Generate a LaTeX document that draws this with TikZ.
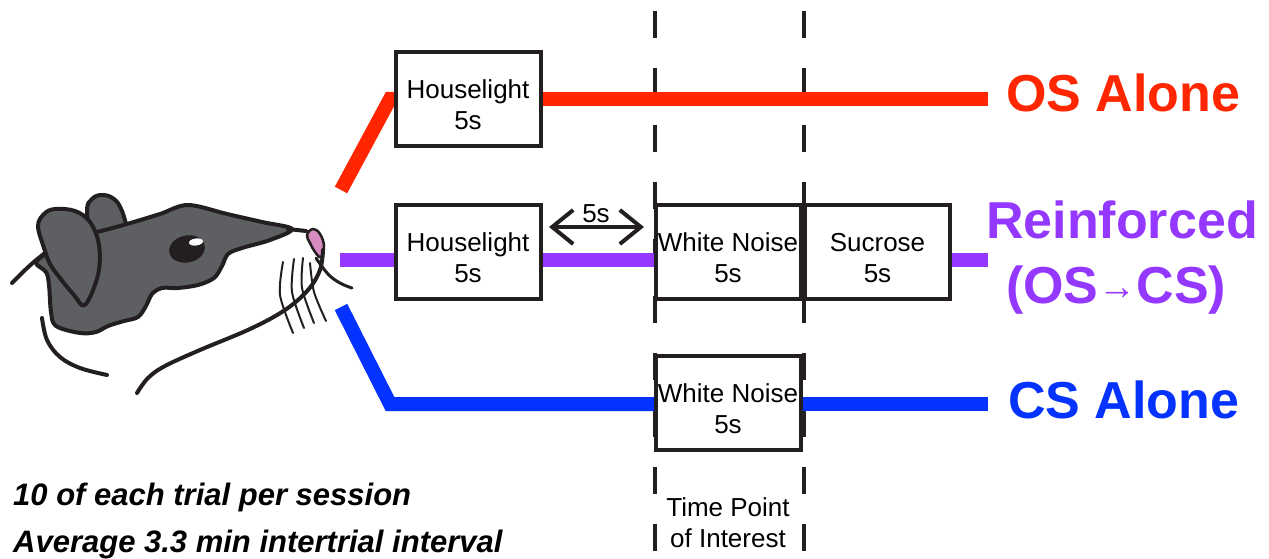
\documentclass[tikz,border=0pt]{standalone}
\usepackage{fontspec}
\setmainfont{Liberation Sans}
\usetikzlibrary{arrows.meta}

\definecolor{ink}{RGB}{35,31,32}
\definecolor{osred}{RGB}{255,38,0}
\definecolor{grape}{RGB}{148,55,255}
\definecolor{csblue}{RGB}{4,51,255}
\definecolor{ratgray}{RGB}{94,95,99}
\definecolor{nosepink}{RGB}{214,140,192}

\begin{document}
\begin{tikzpicture}[x=1pt,y=-1pt,
  stim/.style={draw=ink, line width=4pt, fill=white, minimum width=145pt,
    minimum height=94pt, inner sep=0pt, outer sep=0pt},
  stimtxt/.style={align=center, font=\fontsize{26}{31}\selectfont, inner sep=0pt, text=black},
  trial/.style={line width=14pt, line join=miter},
  timept/.style={line width=4pt, draw=ink, dash pattern=on 27pt off 30pt},
  tag/.style={font=\fontsize{52}{60}\selectfont\bfseries, inner sep=0pt, anchor=base west},
  note/.style={font=\fontsize{31}{36}\selectfont\bfseries\itshape, inner sep=0pt, anchor=base west},
  outline/.style={line width=4pt, draw=ink, line join=round, line cap=round},
  whisker/.style={line width=2pt, draw=ink, line cap=round}
]
\useasboundingbox (0,0) rectangle (1269,559);

% ---- time point of interest markers ----
\coordinate (tpl0) at (655,11);   \coordinate (tpl1) at (655,551);
\coordinate (tpr0) at (803.5,11); \coordinate (tpr1) at (803.5,551);
\draw[timept] (tpl0) -- (tpl1);
\draw[timept] (tpr0) -- (tpr1);

% ---- trial lines: end points and bends ----
\coordinate (r0) at (341,190); \coordinate (r1) at (390,99); \coordinate (r2) at (988,99);
\coordinate (p0) at (340,259.5); \coordinate (p1) at (988,259.5);
\coordinate (b0) at (341,307); \coordinate (b1) at (390,404); \coordinate (b2) at (988,404);

% ---- stimulus boxes (positions first, drawn over the lines below) ----
\path
  (468,99)    coordinate (hl1c)
  (468,252)   coordinate (hl2c)
  (728,252)   coordinate (wn2c)
  (877.5,252) coordinate (succ)
  (728,402.5) coordinate (wn3c);
\node[stim, draw=none, fill=none] (hl1) at (hl1c) {};
\node[stim, draw=none, fill=none] (hl2) at (hl2c) {};
\node[stim, draw=none, fill=none] (wn2) at (wn2c) {};
\node[stim, draw=none, fill=none] (suc) at (succ) {};
\node[stim, draw=none, fill=none] (wn3) at (wn3c) {};

\draw[trial, osred] (r0) -- (r1) -- (hl1.west);
\draw[trial, osred] (hl1.east) -- (r2);
\draw[trial, grape] (p0) -- (hl2.west |- p0);
\draw[trial, grape] (hl2.east |- p0) -- (wn2.west |- p0);
\draw[trial, grape] (suc.east |- p0) -- (p1);
\draw[trial, csblue] (b0) -- (b1) -- (wn3.west |- b1);
\draw[trial, csblue] (wn3.east |- b2) -- (b2);

\node[stim, label={[stimtxt, yshift=-6pt]center:Houselight\\5s}] at (hl1c) {};
\node[stim, label={[stimtxt, yshift=-6pt]center:Houselight\\5s}] at (hl2c) {};
\node[stim, label={[stimtxt, yshift=-6pt]center:White Noise\\5s}] at (wn2c) {};
\node[stim, label={[stimtxt, yshift=-6pt]center:Sucrose\\5s}] at (succ) {};
\node[stim, label={[stimtxt, yshift=-6pt]center:White Noise\\5s}] at (wn3c) {};

% ---- labels at the right ----
\node[tag, text=osred] (osl) at (1006,112) {OS Alone};
\node[tag, text=grape] (rfl) at (986,238) {Reinforced};
\node[tag, text=grape, anchor=base] (rfl2) at (1116,303)
  {(OS\raisebox{4pt}{\fontsize{38}{38}\selectfont→}CS)};
\node[tag, text=csblue] (csl) at (1008,418) {CS Alone};

% ---- interval between houselight and white noise ----
\coordinate (a0) at (549,227); \coordinate (a1) at (644,227);
\draw[line width=4pt, draw=ink,
  {Straight Barb[length=21pt,width=34pt]}-{Straight Barb[length=21pt,width=34pt]}]
  (a0) -- (a1);
\node[stimtxt, anchor=base] (gap) at (596,222) {5s};

% ---- time point caption ----
\node[stimtxt] (tpcap) at (728,523) {Time Point\\of Interest};

% ---- session notes ----
\node[note] (n1) at (13,505) {10 of each trial per session};
\node[note] (n2) at (13,552) {Average 3.3 min intertrial interval};

% ---- rat head ----
% back ear
\filldraw[outline, fill=ratgray] plot[smooth, tension=0.7] coordinates
  {(90,238) (87,210) (92,199) (102,195) (114,199) (122,211) (128,232)};
% head
\filldraw[outline, fill=ratgray] plot[smooth cycle, tension=0.55] coordinates
  {(36,263) (46,253) (60,240) (97,232) (127,224) (160,214) (188,205) (227,214)
   (262,222) (292,229) (270,240) (242,248) (228,254) (222,266) (214,278)
   (198,285) (178,288) (162,288) (152,294) (146,306) (138,317) (124,321)
   (108,326) (96,332) (80,333) (56,326) (51,312) (49,285) (46,272)};
% front ear
\filldraw[outline, fill=ratgray] plot[smooth cycle, tension=0.6] coordinates
  {(38,226) (44,214) (55,209) (75,211) (90,222) (99,245) (98,275) (85,305)
   (74,295) (60,278) (50,264) (44,248)};
% eye
\fill[ink] (187,249) ellipse [x radius=18, y radius=13.5, rotate=12];
\fill[white] (196,242) ellipse [x radius=7, y radius=3.5, rotate=8];
% snout and nose
\draw[outline] (288,229) -- (306,231);
\filldraw[line width=2.5pt, draw=ink, fill=nosepink] plot[smooth cycle, tension=0.7]
  coordinates {(307,235) (313,229) (320,234) (324,246) (321,257) (315,252) (310,243)};
% jaw and mouth
\draw[outline] plot[smooth, tension=0.6] coordinates
  {(323,250) (320,270) (308,290) (285,310) (250,329) (200,350) (165,366) (148,378) (137,393)};
\draw[line width=3pt, draw=ink, line cap=round] plot[smooth, tension=0.7] coordinates
  {(316,258) (328,274) (340,283) (352,288)};
% back of head and cheek
\draw[outline] plot[smooth, tension=0.6] coordinates {(12,283) (24,271) (35,261) (45,253)};
\draw[outline] plot[smooth, tension=0.6] coordinates {(42,318) (47,340) (60,357) (80,368) (107,375)};
% whiskers
\draw[whisker] plot[smooth] coordinates {(283,262) (280,295) (293,333)};
\draw[whisker] plot[smooth] coordinates {(294,259) (292,292) (304,328)};
\draw[whisker] plot[smooth] coordinates {(303,258) (302,288) (314,323)};
\draw[whisker] plot[smooth] coordinates {(310,263) (314,292) (326,321)};
\end{tikzpicture}
\end{document}
